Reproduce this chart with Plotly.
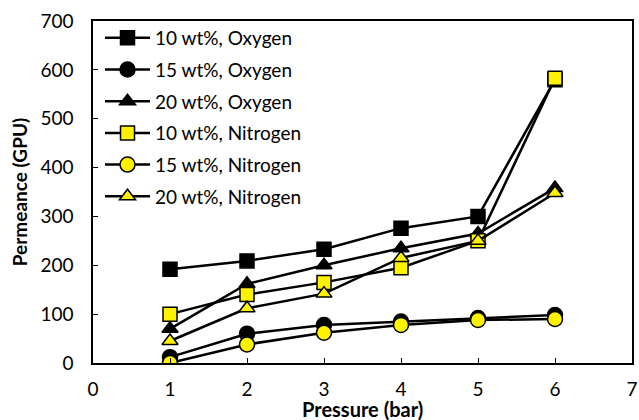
import plotly.graph_objects as go

pressure = [1, 2, 3, 4, 5, 6]
o2_10 = [192, 209, 233, 276, 300, 580]
o2_15 = [12, 60, 78, 85, 92, 98]
o2_20 = [70, 162, 200, 235, 265, 358]
n2_10 = [100, 140, 165, 195, 250, 583]
n2_15 = [0, 38, 62, 78, 88, 90]
n2_20 = [45, 112, 142, 215, 250, 348]

series = [
    ("10 wt%, Oxygen", o2_10, "square", "black"),
    ("15 wt%, Oxygen", o2_15, "circle", "black"),
    ("20 wt%, Oxygen", o2_20, "triangle-up", "black"),
    ("10 wt%, Nitrogen", n2_10, "square", "#FFF200"),
    ("15 wt%, Nitrogen", n2_15, "circle", "#FFF200"),
    ("20 wt%, Nitrogen", n2_20, "triangle-up", "#FFF200"),
]

fig = go.Figure()
for i, (name, vals, sym, col) in enumerate(series):
    fig.add_trace(go.Scatter(
        x=pressure, y=vals, name=name, mode="lines+markers",
        legendgroup=f"g{i}",
        line=dict(color="black", width=2.5),
        marker=dict(symbol=sym, size=14 if sym != "circle" else 15, color=col,
                    line=dict(color="black", width=1.5)),
    ))

font = "Lato, 'Open Sans', sans-serif"
fig.update_layout(
    width=639, height=420,
    margin=dict(l=93, r=7, t=21, b=57, autoexpand=False),
    paper_bgcolor="white", plot_bgcolor="white",
    font=dict(family=font, size=19, color="black"),
    showlegend=True,
    legend=dict(x=0.013, y=1.006, xanchor="left", yanchor="top",
                bgcolor="rgba(0,0,0,0)", font=dict(size=19, family=font),
                itemwidth=45, tracegroupgap=4),
    xaxis=dict(range=[0, 7], dtick=1, tick0=0, showgrid=False, zeroline=False,
               showline=True, linecolor="black", linewidth=1.5, mirror=True,
               ticks="inside", ticklen=5, tickcolor="black",
               ticklabelstandoff=8, automargin=False),
    yaxis=dict(range=[0, 700], dtick=100, showgrid=False, zeroline=False,
               showline=True, linecolor="black", linewidth=1.5, mirror=True,
               ticks="inside", ticklen=5, tickcolor="black",
               ticklabelstandoff=14, automargin=False,
               title=dict(text="<b>Permeance (GPU)</b>", font=dict(size=19), standoff=8)),
    annotations=[dict(text="<b>Pressure (bar)</b>", xref="paper", yref="paper",
                      x=0.5, y=0, yanchor="middle", yshift=-46, showarrow=False,
                      font=dict(size=20))],
)

fig.write_html("out.html", config={"displayModeBar": False},
               post_script="document.body.style.margin='0';")
